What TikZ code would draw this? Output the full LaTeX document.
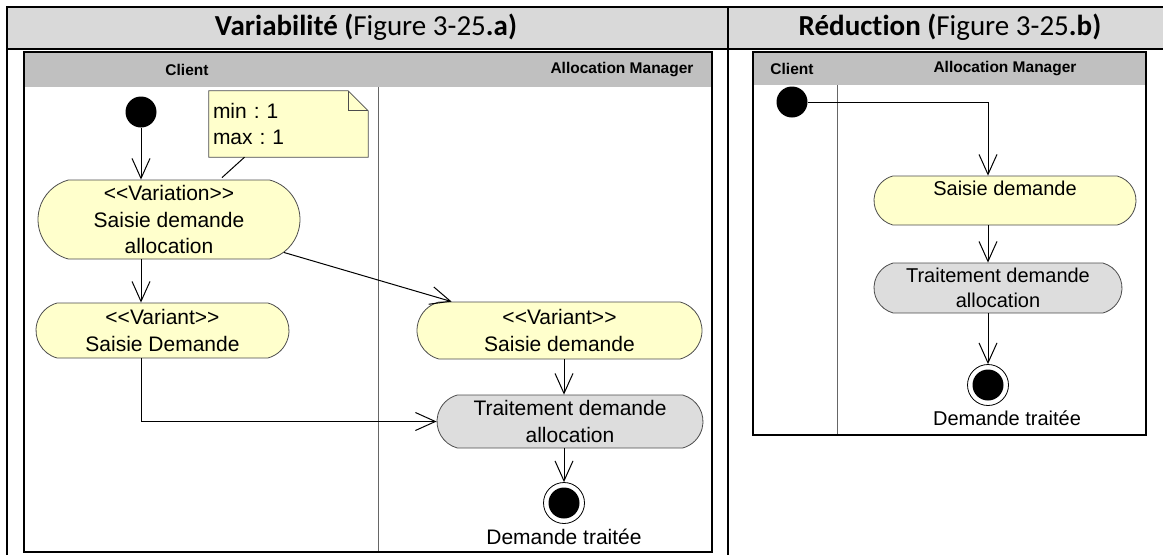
\documentclass[tikz,border=0pt]{standalone}
\usepackage{fontspec}
\newfontfamily\umlfont{Liberation Sans}
\newfontfamily\titrefont{Carlito}[Ligatures=NoCommon]
\usetikzlibrary{arrows.meta,shapes.misc}
\pgfdeclarelayer{fond}
\pgfsetlayers{fond,main}
\frenchspacing

\definecolor{jaune}{RGB}{255,255,204}
\definecolor{grisaction}{RGB}{221,221,221}
\definecolor{griscouloir}{RGB}{192,192,192}
\definecolor{gristableau}{RGB}{217,217,217}

\begin{document}
\begin{tikzpicture}[x=1pt,y=-1pt,
  action/.style={rounded rectangle, rounded rectangle arc length=150,
    draw=black!70, line width=0.8pt, fill=jaune, inner sep=0pt, align=center},
  traitement/.style={action, fill=grisaction},
  texteA/.style={font=\umlfont\fontsize{21}{26.5}\selectfont},
  texteB/.style={font=\umlfont\fontsize{20}{25}\selectfont},
  couloir/.style={font=\umlfont\bfseries\fontsize{15.5}{18}\selectfont},
  titre/.style={anchor=base, font=\titrefont\fontsize{29}{35}\selectfont},
  debut/.style={circle, fill=black, minimum size=31pt, inner sep=0pt},
  fin/.style={circle, draw=black, line width=0.8pt, fill=white,
    minimum size=41pt, inner sep=0pt,
    path picture={\fill[black] (path picture bounding box.center) circle (15.5pt);}},
  fleche/.style={line width=1pt, -{Straight Barb[length=20pt,width=18pt]}},
  trait/.style={line width=1pt}
]

\useasboundingbox (0,0) rectangle (1163,555);

% Tableau
\fill[gristableau] (7,7) rectangle (1163,49);
\draw[line width=2pt] (7,555) -- (7,7) -- (1163,7);
\draw[line width=2pt] (7,49) -- (1163,49);
\draw[line width=2pt] (728,7) -- (728,555);

\node[titre] (titreA) at (366,35)
{\textbf{Variabilité (}Figure 3-25\textbf{.a)}};

\node[titre] (titreB) at (950,35)
{\textbf{Réduction (}Figure 3-25\textbf{.b)}};

% Cadre variabilite
\fill[griscouloir] (24,52) rectangle (712,87);
\draw[black!60, line width=0.8pt] (378,87) -- (378,552);
\draw[line width=2.5pt] (24,52) rectangle (712,552);

\node[couloir] (clientA) at (187,70) {Client};
\node[couloir] (managerA) at (622,70) {Allocation Manager};

% Cadre reduction
\fill[griscouloir] (753,52) rectangle (1146,85);
\draw[black!60, line width=0.8pt] (837,85) -- (837,435);
\draw[line width=2.5pt] (753,52) rectangle (1146,435);

\node[couloir] (clientB) at (792,69) {Client};
\node[couloir] (managerB) at (1005,69) {Allocation Manager};

% Variabilite
\node[debut] (debutA) at (141,112) {};

\node[action, texteA, minimum width=262pt, minimum height=79pt]
(variation) at (169,219.5)
{<<Variation>>\\Saisie demande\\allocation};

\node[action, texteA, minimum width=253pt, minimum height=55pt]
(variantA) at (162.5,330.5)
{<<Variant>>\\Saisie Demande};

\node[action, texteA, minimum width=285pt, minimum height=57pt]
(variantB) at (559.5,330.5)
{<<Variant>>\\Saisie demande};

\node[traitement, texteA, minimum width=266pt, minimum height=53pt]
(traitementA) at (570,421.5)
{Traitement demande\\allocation};

\node[fin] (finA) at (564,503) {};

\node[texteA, anchor=base] (etatA) at (564,544)
{Demande traitée};

% Note
\node[texteA, minimum width=159pt, minimum height=66pt,
  text width=151pt, inner sep=4pt, align=left]
(note) at (288.5,124)
{min : 1\\max : 1};

\begin{pgfonlayer}{fond}
\draw[fill=jaune, draw=black!70, line width=0.8pt]
(note.north west)
-- ([xshift=-20pt]note.north east)
-- ([yshift=-20pt]note.north east)
-- (note.south east)
-- (note.south west)
-- cycle;
\end{pgfonlayer}

\draw[draw=black!70, line width=0.8pt]
([xshift=-20pt]note.north east)
-- ([xshift=-20pt,yshift=-20pt]note.north east)
-- ([yshift=-20pt]note.north east);

\draw[trait]
([xshift=-44pt]note.south)
-- ([xshift=53pt,yshift=2pt]variation.north);

% Fleches variabilite
\draw[fleche] (debutA) -- (debutA |- variation.north);
\draw[fleche] (variation.south -| debutA) -- (variantA.north -| debutA);
\draw[fleche] (variation.-16) -- (variantB.165);
\draw[fleche] (variantA.south -| debutA) |- (traitementA.west);
\draw[fleche] (variantB.south -| finA) -- (traitementA.north -| finA);
\draw[fleche] (traitementA.south -| finA) -- (finA.north);

% Reduction
\node[debut] (debutB) at (792,102) {};

\node[action, texteB, minimum width=262pt, minimum height=49pt]
(saisieB) at (1005,200.5)
{Saisie demande\\\mbox{}};

\node[traitement, texteB, minimum width=248pt, minimum height=50pt]
(traitementB) at (998,288)
{Traitement demande\\allocation};

\node[fin] (finB) at (988,385) {};

\node[texteB, anchor=base] (etatB) at (1007,425)
{Demande traitée};

% Fleches reduction
\draw[fleche] (debutB) -| (saisieB.north -| finB);
\draw[fleche] (saisieB.south -| finB) -- (traitementB.north -| finB);
\draw[fleche] (traitementB.south -| finB) -- (finB.north);

\end{tikzpicture}
\end{document}
